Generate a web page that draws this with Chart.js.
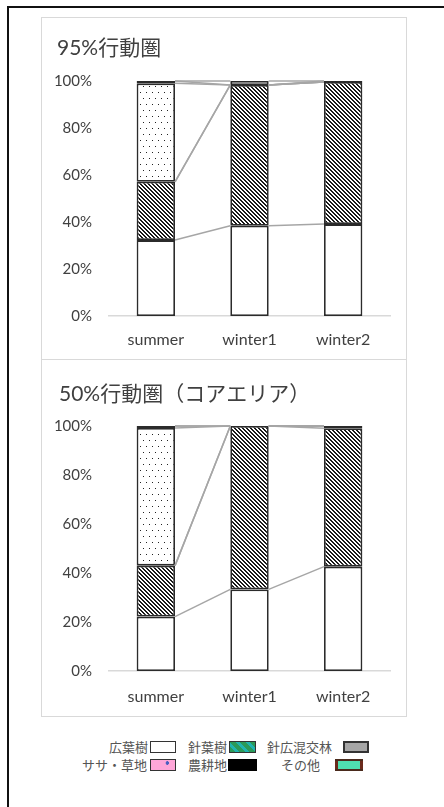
<!DOCTYPE html>
<html lang="ja">
<head>
<meta charset="utf-8">
<title>行動圏の植生構成</title>
<script src="https://cdn.jsdelivr.net/npm/chart.js@4.4.1/dist/chart.umd.min.js"></script>
<style>
  html, body { margin: 0; padding: 0; background: #fff; }
  body { width: 444px; height: 807px; position: relative; overflow: hidden; }
  #frame {
    position: absolute; left: 7px; top: 6px; right: -10px; bottom: -10px;
    border-left: 2px solid #111; border-top: 2px solid #111;
  }
  .panel {
    position: absolute; left: 41px; width: 364px;
    border: 1px solid #d9d9d9; background: #fff;
  }
  .panel canvas { display: block; }
  #p95 { top: 17px; height: 341px; }
  #p50 { top: 359px; height: 356px; }
  .title {
    position: absolute; font: 21px Lato, "Noto Sans CJK JP", sans-serif;
    line-height: 25px; color: #404040; white-space: nowrap;
  }
  .lg-text {
    position: absolute; font: 13px "Noto Sans CJK JP", sans-serif; color: #555;
    line-height: 16px; text-align: right; white-space: nowrap;
  }
  .lg-box { position: absolute; height: 12px; box-sizing: border-box; }
</style>
</head>
<body>
<div id="frame"></div>
<div class="panel" id="p95"><canvas id="chart95" width="364" height="341"></canvas></div>
<div class="panel" id="p50"><canvas id="chart50" width="364" height="356"></canvas></div>
<div class="title" id="t95" style="left:57px;top:34px;"></div>
<div class="title" id="t50" style="left:59px;top:380px;"></div>
<div id="legend"></div>

<script>
// ----- data -----
const seasons = ["summer", "winter1", "winter2"];
const landTypes = ["広葉樹", "針葉樹", "針広混交林", "ササ・草地", "農耕地", "その他"];
const yTicks = [0, 20, 40, 60, 80, 100];
const titles = ["95%行動圏", "50%行動圏（コアエリア）"];

// 95% home range, share (%) of each land type per season
const hr95Broadleaf = [32.3, 38.4, 39.1];
const hr95Conifer   = [24.8, 59.9, 60.5];
const hr95Mixed     = [0, 0, 0];
const hr95Sasa      = [41.9, 0, 0];
const hr95Farm      = [1.0, 0, 0.4];
const hr95Other     = [0, 1.7, 0];

// 50% home range (core area)
const hr50Broadleaf = [22.2, 33.3, 42.6];
const hr50Conifer   = [20.8, 66.7, 56.5];
const hr50Mixed     = [0, 0, 0.9];
const hr50Sasa      = [56.2, 0, 0];
const hr50Farm      = [0.8, 0, 0];
const hr50Other     = [0, 0, 0];

// ----- fills -----
function hatchPattern() {
  const c = document.createElement("canvas");
  c.width = 4; c.height = 4;
  const g = c.getContext("2d");
  g.fillStyle = "#fff"; g.fillRect(0, 0, 4, 4);
  g.fillStyle = "#1a1a1a";
  for (let i = 0; i < 4; i++) {
    g.fillRect(i, i, 1, 1);
    g.fillRect((i + 1) % 4, i, 1, 1);
  }
  return g.createPattern(c, "repeat");
}

function dotPattern() {
  const c = document.createElement("canvas");
  c.width = 6; c.height = 12;
  const g = c.getContext("2d");
  g.fillStyle = "#fff"; g.fillRect(0, 0, 6, 12);
  g.fillStyle = "#222";
  g.fillRect(2, 2, 1, 1);
  g.fillRect(5, 8, 1, 1);
  return g.createPattern(c, "repeat");
}

const fills = [
  "#ffffff",      // 広葉樹
  hatchPattern(), // 針葉樹
  "#a6a6a6",      // 針広混交林
  dotPattern(),   // ササ・草地
  "#000000",      // 農耕地
  "#ffffff",      // その他
];

// Excel-style series lines joining the top of each segment between bars
const seriesLines = {
  id: "seriesLines",
  afterDatasetsDraw(chart) {
    const ctx = chart.ctx;
    ctx.save();
    ctx.strokeStyle = "#a6a6a6";
    ctx.lineWidth = 1.5;
    chart.data.datasets.forEach((ds, i) => {
      const bars = chart.getDatasetMeta(i).data;
      for (let j = 0; j < bars.length - 1; j++) {
        const a = bars[j], b = bars[j + 1];
        ctx.beginPath();
        ctx.moveTo(a.x + a.width / 2, a.y);
        ctx.lineTo(b.x - b.width / 2, b.y);
        ctx.stroke();
      }
    });
    ctx.restore();
  },
};

const xFont = { family: "Lato, 'Noto Sans', sans-serif", size: 16 };
const yFont = { family: "Lato, 'Noto Sans', sans-serif", size: 15 };

function makeChart(id, series, lay) {
  return new Chart(document.getElementById(id), {
    type: "bar",
    data: {
      labels: seasons,
      datasets: series.map((values, i) => ({
        label: landTypes[i],
        data: values,
        backgroundColor: fills[i],
        borderColor: "#2b2b2b",
        borderWidth: 1.8,
        borderSkipped: false,
        barPercentage: 0.41,
        categoryPercentage: 1,
      })),
    },
    options: {
      responsive: false,
      animation: false,
      devicePixelRatio: 1,
      layout: { padding: { left: 0, right: 16, top: lay.top, bottom: 10 } },
      plugins: {
        legend: { display: false },
        tooltip: { enabled: false },
        title: { display: false },
      },
      scales: {
        x: {
          stacked: true,
          afterFit: (scale) => { scale.height = lay.xPad + 19; },
          grid: { display: false, drawTicks: false },
          border: { display: true, color: "#d9d9d9", width: 1.5 },
          ticks: { color: "#404040", font: xFont, padding: lay.xPad },
        },
        y: {
          stacked: true,
          min: 0,
          max: 100,
          afterBuildTicks: (scale) => { scale.ticks = yTicks.map((v) => ({ value: v })); },
          afterFit: (scale) => { scale.width = 67; },
          grid: { display: false, drawTicks: false },
          border: { display: false },
          ticks: {
            color: "#404040",
            font: yFont,
            padding: 17,
            callback: (v) => v + "%",
          },
        },
      },
    },
    plugins: [seriesLines],
  });
}

document.getElementById("t95").textContent = titles[0];
document.getElementById("t50").textContent = titles[1];

makeChart("chart95",
  [hr95Broadleaf, hr95Conifer, hr95Mixed, hr95Sasa, hr95Farm, hr95Other],
  { top: 63, xPad: 14 });

makeChart("chart50",
  [hr50Broadleaf, hr50Conifer, hr50Mixed, hr50Sasa, hr50Farm, hr50Other],
  { top: 66, xPad: 16 });

// ----- legend (two rows of three, text to the left of each swatch) -----
const legendSwatches = [
  "background:#fff;border:1px solid #333;",
  "background:repeating-linear-gradient(45deg,#2b9a58 0 4px,#1fb3b0 4px 7px);border:1px solid #333;",
  "background:#a6a6a6;border:2px solid #333;",
  "background:radial-gradient(circle at 68% 30%,#4a5fc0 0 1.5px,transparent 2px),#ffa6d8;border:1px solid #333;",
  "background:#000;",
  "background:linear-gradient(90deg,#6b2a1c 0 3px,transparent 3px calc(100% - 3px),#6b2a1c calc(100% - 3px)),#4fe0b0;border:2px solid #4a2a1c;border-left:none;border-right:none;",
];
const legendSlots = [
  { textRight: 148, box: 150, w: 26, y: 741 },
  { textRight: 227, box: 229, w: 27, y: 741 },
  { textRight: 332, box: 343, w: 26, y: 741 },
  { textRight: 147, box: 150, w: 26, y: 759 },
  { textRight: 227, box: 228, w: 29, y: 759 },
  { textRight: 320, box: 335, w: 28, y: 759 },
];
const legend = document.getElementById("legend");
landTypes.forEach((name, i) => {
  const s = legendSlots[i];
  const t = document.createElement("div");
  t.className = "lg-text";
  t.textContent = name;
  t.style.right = (444 - s.textRight) + "px";
  t.style.top = (s.y - 2) + "px";
  legend.appendChild(t);
  const b = document.createElement("div");
  b.className = "lg-box";
  b.style.cssText += legendSwatches[i] + "left:" + s.box + "px;top:" + s.y + "px;width:" + s.w + "px;";
  legend.appendChild(b);
});
</script>
</body>
</html>
